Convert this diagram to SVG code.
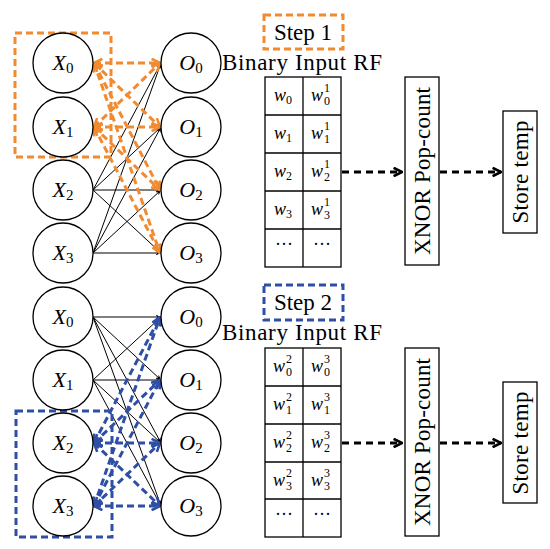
<svg xmlns="http://www.w3.org/2000/svg" width="550" height="549" viewBox="0 0 550 549">
<defs>
<style>
text{font-family:'Liberation Serif','DejaVu Serif',serif}
.node{fill:#fff;stroke:#000;stroke-width:1.3}
.lbl{font-size:22px;text-anchor:middle}
.it{font-style:italic}
.sub{font-size:15px;font-style:normal}
.cell{font-size:18px}
.cs{font-size:12px;font-style:normal}
.txt{font-size:23px;text-anchor:middle}
.solid{stroke:#000;stroke-width:1;fill:none}
.or{stroke:#F28A30;stroke-width:3;stroke-dasharray:7 4;fill:none}
.bl{stroke:#2F4FA6;stroke-width:3;stroke-dasharray:7 4;fill:none}
.bk{stroke:#000;stroke-width:3;stroke-dasharray:7 5;fill:none}
.box{fill:#fff;stroke:#000;stroke-width:1.3}
</style>
<marker id="ah" viewBox="0 0 10 10" refX="9" refY="5" markerWidth="6" markerHeight="6" orient="auto-start-reverse" markerUnits="userSpaceOnUse"><path d="M0,1 L9,5 L0,9 L3,5 Z" fill="#000"/></marker>
<marker id="ao" viewBox="0 0 10 10" refX="9" refY="5" markerWidth="3.5" markerHeight="3.5" orient="auto-start-reverse"><path d="M1,1 L9,5 L1,9" fill="none" stroke="#F28A30" stroke-width="2.5"/></marker>
<marker id="ab" viewBox="0 0 10 10" refX="9" refY="5" markerWidth="3.5" markerHeight="3.5" orient="auto-start-reverse"><path d="M1,1 L9,5 L1,9" fill="none" stroke="#2F4FA6" stroke-width="2.5"/></marker>
<marker id="ak" viewBox="0 0 10 10" refX="9" refY="5" markerWidth="3.5" markerHeight="3.5" orient="auto"><path d="M1,1 L9,5 L1,9" fill="none" stroke="#000" stroke-width="2.5"/></marker>
</defs>
<rect width="550" height="549" fill="#fff"/>

<g id="connectors">
<g class="solid" marker-end="url(#ah)">
<line x1="93" y1="190" x2="161" y2="63"/><line x1="93" y1="190" x2="161" y2="127"/><line x1="93" y1="190" x2="161" y2="190"/><line x1="93" y1="190" x2="161" y2="253"/>
<line x1="93" y1="253" x2="161" y2="63"/><line x1="93" y1="253" x2="161" y2="127"/><line x1="93" y1="253" x2="161" y2="190"/><line x1="93" y1="253" x2="161" y2="253"/>
</g>
<g class="or" marker-start="url(#ao)" marker-end="url(#ao)">
<line x1="94" y1="63" x2="160" y2="63"/><line x1="94" y1="63" x2="160" y2="127"/><line x1="94" y1="63" x2="160" y2="190"/><line x1="94" y1="63" x2="160" y2="253"/>
<line x1="94" y1="127" x2="160" y2="63"/><line x1="94" y1="127" x2="160" y2="127"/><line x1="94" y1="127" x2="160" y2="190"/><line x1="94" y1="127" x2="160" y2="253"/>
</g>
<g class="solid" marker-end="url(#ah)">
<line x1="93" y1="317" x2="161" y2="317"/><line x1="93" y1="317" x2="161" y2="380"/><line x1="93" y1="317" x2="161" y2="443"/><line x1="93" y1="317" x2="161" y2="506"/>
<line x1="93" y1="380" x2="161" y2="317"/><line x1="93" y1="380" x2="161" y2="380"/><line x1="93" y1="380" x2="161" y2="443"/><line x1="93" y1="380" x2="161" y2="506"/>
</g>
<g class="bl" marker-start="url(#ab)" marker-end="url(#ab)">
<line x1="94" y1="443" x2="160" y2="317"/><line x1="94" y1="443" x2="160" y2="380"/><line x1="94" y1="443" x2="160" y2="443"/><line x1="94" y1="443" x2="160" y2="506"/>
<line x1="94" y1="506" x2="160" y2="317"/><line x1="94" y1="506" x2="160" y2="380"/><line x1="94" y1="506" x2="160" y2="443"/><line x1="94" y1="506" x2="160" y2="506"/>
</g>
<g class="bk" marker-end="url(#ak)">
<line x1="342" y1="172" x2="402" y2="172"/><line x1="440" y1="172" x2="501" y2="172"/>
<line x1="342" y1="443" x2="402" y2="443"/><line x1="440" y1="443" x2="501" y2="443"/>
</g>
</g>

<rect x="15" y="33" width="96" height="124" fill="none" stroke="#F28A30" stroke-width="3" stroke-dasharray="7 4"/>
<rect x="16" y="411" width="96" height="126" fill="none" stroke="#2F4FA6" stroke-width="3" stroke-dasharray="7 4"/>

<g id="tX0"><circle class="node" cx="63" cy="63" r="30"/><text class="lbl" x="63" y="70"><tspan class="it">X</tspan><tspan class="sub" dy="3">0</tspan></text></g>
<g id="tX1"><circle class="node" cx="63" cy="127" r="30"/><text class="lbl" x="63" y="134"><tspan class="it">X</tspan><tspan class="sub" dy="3">1</tspan></text></g>
<g id="tX2"><circle class="node" cx="63" cy="190" r="30"/><text class="lbl" x="63" y="197"><tspan class="it">X</tspan><tspan class="sub" dy="3">2</tspan></text></g>
<g id="tX3"><circle class="node" cx="63" cy="253" r="30"/><text class="lbl" x="63" y="260"><tspan class="it">X</tspan><tspan class="sub" dy="3">3</tspan></text></g>
<g id="tO0"><circle class="node" cx="191" cy="63" r="30"/><text class="lbl" x="191" y="70"><tspan class="it">O</tspan><tspan class="sub" dy="3">0</tspan></text></g>
<g id="tO1"><circle class="node" cx="191" cy="127" r="30"/><text class="lbl" x="191" y="134"><tspan class="it">O</tspan><tspan class="sub" dy="3">1</tspan></text></g>
<g id="tO2"><circle class="node" cx="191" cy="190" r="30"/><text class="lbl" x="191" y="197"><tspan class="it">O</tspan><tspan class="sub" dy="3">2</tspan></text></g>
<g id="tO3"><circle class="node" cx="191" cy="253" r="30"/><text class="lbl" x="191" y="260"><tspan class="it">O</tspan><tspan class="sub" dy="3">3</tspan></text></g>

<g id="bX0"><circle class="node" cx="63" cy="317" r="30"/><text class="lbl" x="63" y="324"><tspan class="it">X</tspan><tspan class="sub" dy="3">0</tspan></text></g>
<g id="bX1"><circle class="node" cx="63" cy="380" r="30"/><text class="lbl" x="63" y="387"><tspan class="it">X</tspan><tspan class="sub" dy="3">1</tspan></text></g>
<g id="bX2"><circle class="node" cx="63" cy="443" r="30"/><text class="lbl" x="63" y="450"><tspan class="it">X</tspan><tspan class="sub" dy="3">2</tspan></text></g>
<g id="bX3"><circle class="node" cx="63" cy="506" r="30"/><text class="lbl" x="63" y="513"><tspan class="it">X</tspan><tspan class="sub" dy="3">3</tspan></text></g>
<g id="bO0"><circle class="node" cx="191" cy="317" r="30"/><text class="lbl" x="191" y="324"><tspan class="it">O</tspan><tspan class="sub" dy="3">0</tspan></text></g>
<g id="bO1"><circle class="node" cx="191" cy="380" r="30"/><text class="lbl" x="191" y="387"><tspan class="it">O</tspan><tspan class="sub" dy="3">1</tspan></text></g>
<g id="bO2"><circle class="node" cx="191" cy="443" r="30"/><text class="lbl" x="191" y="450"><tspan class="it">O</tspan><tspan class="sub" dy="3">2</tspan></text></g>
<g id="bO3"><circle class="node" cx="191" cy="506" r="30"/><text class="lbl" x="191" y="513"><tspan class="it">O</tspan><tspan class="sub" dy="3">3</tspan></text></g>

<g id="step1"><rect x="264" y="15" width="79" height="34" fill="none" stroke="#F28A30" stroke-width="3" stroke-dasharray="7 4"/><text class="txt" x="303" y="40">Step 1</text></g>
<g id="step2"><rect x="264" y="285" width="79" height="35" fill="none" stroke="#2F4FA6" stroke-width="3" stroke-dasharray="7 4"/><text class="txt" x="303" y="310">Step 2</text></g>
<text class="txt" x="302" y="70" textLength="160">Binary Input RF</text>
<text class="txt" x="302" y="340" textLength="160">Binary Input RF</text>

<g id="rf1" fill="none" stroke="#000" stroke-width="1.3">
<rect x="265" y="77" width="76" height="190" fill="#fff"/>
<line x1="303" y1="77" x2="303" y2="267"/>
<line x1="265" y1="115" x2="341" y2="115"/><line x1="265" y1="153" x2="341" y2="153"/><line x1="265" y1="191" x2="341" y2="191"/><line x1="265" y1="229" x2="341" y2="229"/>
</g>
<g class="cell">
<text x="274" y="101"><tspan font-style="italic">w</tspan><tspan class="cs" dy="3">0</tspan></text>
<text x="274" y="139"><tspan font-style="italic">w</tspan><tspan class="cs" dy="3">1</tspan></text>
<text x="274" y="177"><tspan font-style="italic">w</tspan><tspan class="cs" dy="3">2</tspan></text>
<text x="274" y="215"><tspan font-style="italic">w</tspan><tspan class="cs" dy="3">3</tspan></text>
<text x="284" y="250" text-anchor="middle">···</text>
<text x="311" y="101"><tspan font-style="italic">w</tspan><tspan class="cs" x="324" y="92">1</tspan><tspan class="cs" x="324" y="105">0</tspan></text>
<text x="311" y="139"><tspan font-style="italic">w</tspan><tspan class="cs" x="324" y="130">1</tspan><tspan class="cs" x="324" y="143">1</tspan></text>
<text x="311" y="177"><tspan font-style="italic">w</tspan><tspan class="cs" x="324" y="168">1</tspan><tspan class="cs" x="324" y="181">2</tspan></text>
<text x="311" y="215"><tspan font-style="italic">w</tspan><tspan class="cs" x="324" y="206">1</tspan><tspan class="cs" x="324" y="219">3</tspan></text>
<text x="322" y="250" text-anchor="middle">···</text>
</g>

<g id="rf2" fill="none" stroke="#000" stroke-width="1.3">
<rect x="265" y="348" width="76" height="189" fill="#fff"/>
<line x1="303" y1="348" x2="303" y2="537"/>
<line x1="265" y1="386" x2="341" y2="386"/><line x1="265" y1="424" x2="341" y2="424"/><line x1="265" y1="462" x2="341" y2="462"/><line x1="265" y1="499" x2="341" y2="499"/>
</g>
<g class="cell">
<text x="273" y="372"><tspan font-style="italic">w</tspan><tspan class="cs" x="286" y="363">2</tspan><tspan class="cs" x="286" y="376">0</tspan></text>
<text x="273" y="410"><tspan font-style="italic">w</tspan><tspan class="cs" x="286" y="401">2</tspan><tspan class="cs" x="286" y="414">1</tspan></text>
<text x="273" y="448"><tspan font-style="italic">w</tspan><tspan class="cs" x="286" y="439">2</tspan><tspan class="cs" x="286" y="452">2</tspan></text>
<text x="273" y="486"><tspan font-style="italic">w</tspan><tspan class="cs" x="286" y="477">2</tspan><tspan class="cs" x="286" y="490">3</tspan></text>
<text x="284" y="520" text-anchor="middle">···</text>
<text x="311" y="372"><tspan font-style="italic">w</tspan><tspan class="cs" x="324" y="363">3</tspan><tspan class="cs" x="324" y="376">0</tspan></text>
<text x="311" y="410"><tspan font-style="italic">w</tspan><tspan class="cs" x="324" y="401">3</tspan><tspan class="cs" x="324" y="414">1</tspan></text>
<text x="311" y="448"><tspan font-style="italic">w</tspan><tspan class="cs" x="324" y="439">3</tspan><tspan class="cs" x="324" y="452">2</tspan></text>
<text x="311" y="486"><tspan font-style="italic">w</tspan><tspan class="cs" x="324" y="477">3</tspan><tspan class="cs" x="324" y="490">3</tspan></text>
<text x="322" y="520" text-anchor="middle">···</text>
</g>

<g id="xnor1"><rect class="box" x="405" y="77" width="34" height="188"/><text class="txt" transform="translate(430,171) rotate(-90)" textLength="168">XNOR Pop-count</text></g>
<g id="store1"><rect class="box" x="503" y="111" width="34" height="122"/><text class="txt" transform="translate(528,172) rotate(-90)" textLength="103">Store temp</text></g>
<g id="xnor2"><rect class="box" x="405" y="348" width="34" height="188"/><text class="txt" transform="translate(430,442) rotate(-90)" textLength="168">XNOR Pop-count</text></g>
<g id="store2"><rect class="box" x="503" y="382" width="34" height="121"/><text class="txt" transform="translate(528,443) rotate(-90)" textLength="103">Store temp</text></g>
</svg>
